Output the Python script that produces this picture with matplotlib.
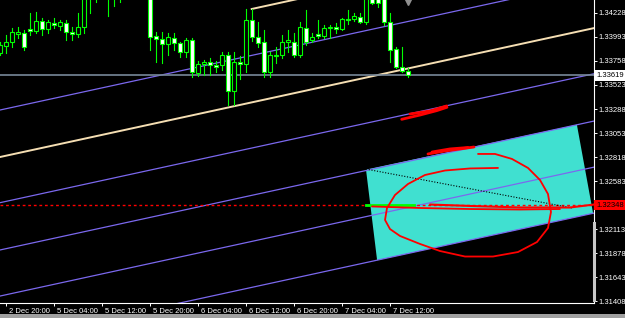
import matplotlib
matplotlib.use("Agg")
import matplotlib.pyplot as plt
import matplotlib.transforms as mtransforms
from matplotlib.patches import Rectangle, Polygon

# H1 candles, bar 0 = 2 Dec 20:00 (weekend gap skipped)
bars = list(range(-1, 68))
opens = [1.33836, 1.33905, 1.33944, 1.34022, 1.34032, 1.34071, 1.34052, 1.34150, 1.34071, 1.34130,
         1.34101, 1.34130, 1.34042, 1.34022, 1.34091, 1.34502, 1.34420, 1.34470, 1.34440, 1.34400,
         1.34430, 1.34390, 1.34420, 1.34410, 1.34440, 1.34420, 1.34003, 1.33973, 1.33924, 1.33983,
         1.33934, 1.33846, 1.33964, 1.33640, 1.33728, 1.33748, 1.33719, 1.33719, 1.33817, 1.33464,
         1.33748, 1.33728, 1.34159, 1.33993, 1.33944, 1.33650, 1.33807, 1.33817, 1.33944, 1.33944,
         1.33817, 1.34081, 1.33964, 1.34022, 1.34003, 1.34081, 1.34091, 1.34071, 1.34169, 1.34169,
         1.34189, 1.34140, 1.34400, 1.34380, 1.34380, 1.34140, 1.33875, 1.33699, 1.33660]
closes = [1.33915, 1.33944, 1.34042, 1.34042, 1.33895, 1.34052, 1.34150, 1.34071, 1.34140, 1.34111,
          1.34140, 1.34042, 1.34022, 1.34091, 1.34502, 1.34420, 1.34470, 1.34440, 1.34400, 1.34430,
          1.34390, 1.34420, 1.34410, 1.34440, 1.34420, 1.33993, 1.33973, 1.33924, 1.33993, 1.33934,
          1.33846, 1.33964, 1.33650, 1.33728, 1.33748, 1.33719, 1.33699, 1.33817, 1.33464, 1.33748,
          1.33728, 1.34159, 1.33993, 1.33934, 1.33650, 1.33817, 1.33817, 1.33944, 1.33964, 1.33817,
          1.34091, 1.33944, 1.33993, 1.34003, 1.34081, 1.34091, 1.34071, 1.34169, 1.34160, 1.34199,
          1.34140, 1.34400, 1.34330, 1.34330, 1.34140, 1.33866, 1.33699, 1.33660, 1.33619]
highs = [1.33944, 1.34013, 1.34081, 1.34091, 1.34062, 1.34228, 1.34238, 1.34179, 1.34159, 1.34179,
         1.34159, 1.34159, 1.34091, 1.34228, 1.34551, 1.34560, 1.34520, 1.34530, 1.34480, 1.34480,
         1.34470, 1.34460, 1.34470, 1.34490, 1.34480, 1.34450, 1.34042, 1.34042, 1.34032, 1.34032,
         1.33944, 1.33983, 1.33983, 1.33758, 1.33768, 1.33787, 1.33758, 1.33846, 1.33846, 1.33846,
         1.33807, 1.34267, 1.34267, 1.34140, 1.34062, 1.33846, 1.33895, 1.34013, 1.34062, 1.34032,
         1.34140, 1.34257, 1.34032, 1.34159, 1.34111, 1.34111, 1.34130, 1.34179, 1.34257, 1.34228,
         1.34228, 1.34430, 1.34440, 1.34420, 1.34420, 1.34228, 1.33895, 1.33895, 1.33689]
lows = [1.33817, 1.33836, 1.33895, 1.33983, 1.33866, 1.34013, 1.34032, 1.34013, 1.34032, 1.34081,
        1.34062, 1.33964, 1.33964, 1.33993, 1.34032, 1.34228, 1.34336, 1.34400, 1.34199, 1.34297,
        1.34336, 1.34370, 1.34380, 1.34375, 1.34380, 1.33866, 1.33748, 1.33738, 1.33817, 1.33866,
        1.33797, 1.33797, 1.33601, 1.33611, 1.33621, 1.33621, 1.33650, 1.33670, 1.33327, 1.33327,
        1.33581, 1.33650, 1.33954, 1.33895, 1.33601, 1.33601, 1.33738, 1.33787, 1.33846, 1.33797,
        1.33797, 1.33915, 1.33944, 1.33983, 1.33983, 1.33983, 1.34032, 1.34062, 1.34120, 1.34150,
        1.34130, 1.34120, 1.34316, 1.34287, 1.34111, 1.33748, 1.33689, 1.33650, 1.33601]

x_ticks = [0, 8, 16, 24, 32, 40, 48, 56, 64]
x_labels = ["2 Dec 20:00", "5 Dec 04:00", "5 Dec 12:00", "5 Dec 20:00", "6 Dec 04:00",
            "6 Dec 12:00", "6 Dec 20:00", "7 Dec 04:00", "7 Dec 12:00"]
y_ticks = [1.31408 + 0.00235 * k for k in range(13)]

bid = 1.33619
level = 1.32348

# channel lines: price at left edge / right edge of window
edge_bars = [-0.95, 98.05]
blue_lines = [(1.33278, 1.34540), (1.32371, 1.33633), (1.31908, 1.33170),
              (1.31457, 1.32719), (1.31007, 1.32269)]
beige_line = (1.32818, 1.34080)
beige_ray = ([41, 98.05], [1.34267, 1.34994])

# turquoise box and other objects
box_bars = [60.05, 95.2, 97.9, 61.9]
box_prices = [1.32695, 1.33134, 1.32267, 1.31808]
dot_bars = [60.05, 94.4]
dot_prices = [1.32700, 1.32319]
green_bars = [60.05, 68.0]

# freehand red scribbles (bar, price)
red_strokes = [
    ([66.0, 69.05, 71.83, 73.55], [1.33187, 1.33229, 1.33272, 1.33305]),
    ([67.38, 70.72, 73.5], [1.33239, 1.33269, 1.33318]),
    ([70.38, 73.22, 75.72, 78.05], [1.32848, 1.32877, 1.32897, 1.32916]),
    ([71.05, 74.05, 77.05], [1.32867, 1.32897, 1.32911]),
    ([82.05, 77.38, 73.22, 69.88, 67.05, 64.88, 63.55, 63.22, 64.05, 65.72, 69.05, 72.38,
      76.55, 81.22, 85.38, 88.55, 90.38, 90.88, 90.38, 89.05, 87.05, 84.38, 81.55, 78.72],
     [1.32711, 1.32706, 1.32686, 1.32642, 1.32554, 1.32446, 1.32319, 1.32202, 1.32113, 1.32045,
      1.31967, 1.31898, 1.31844, 1.31844, 1.31888, 1.31986, 1.32123, 1.32280, 1.32456, 1.32593,
      1.32711, 1.32799, 1.32848, 1.32848]),
    ([70.72, 77.38, 85.72, 94.05, 98.05], [1.32353, 1.32339, 1.32324, 1.32324, 1.32353]),
    ([61.05, 69.05, 77.38, 85.72, 92.38], [1.32334, 1.32319, 1.32309, 1.32304, 1.32309]),
]
stroke_widths = [2.0, 2.0, 2.0, 2.0, 1.3, 1.5, 1.3]

GREEN = "#00ff00"
plt.rcParams['font.family'] = ['Liberation Sans', 'DejaVu Sans']

fig = plt.figure(figsize=(6.25, 3.18), dpi=100, facecolor="black")
ax = fig.add_axes([0, 1 - 303 / 318, 594 / 625, 303 / 318])
ax.set_facecolor("black")
ax.set_xlim(edge_bars[0], edge_bars[1])
ax.set_ylim(1.31389, 1.34355)

# box behind the lines
ax.add_patch(Polygon(list(zip(box_bars, box_prices)), closed=True, facecolor="#40e0d0",
                     edgecolor="none", zorder=1))

for p0, p1 in blue_lines:
    ax.plot(edge_bars, [p0, p1], color="#7b68ee", lw=0.9, zorder=2)
ax.plot(edge_bars, beige_line, color="#f5deb3", lw=1.4, zorder=2)
ax.plot(beige_ray[0], beige_ray[1], color="#f5deb3", lw=1.4, zorder=2)

ax.axhline(bid, color="#778899", lw=1.2, zorder=2)
ax.axhline(level, color="red", lw=1.0, ls=(0, (2, 2)), zorder=3)
ax.plot(dot_bars, dot_prices, color="black", lw=0.8, ls=(0, (1, 1.5)), zorder=3)
ax.plot(green_bars, [level, level], color=GREEN, lw=2, zorder=4)

# candles
w = 0.7
for b, o, h, l, c in zip(bars, opens, highs, lows, closes):
    ax.plot([b, b], [l, h], color=GREEN, lw=0.8, zorder=5)
    fill = "white" if c < o else "black"
    ax.add_patch(Rectangle((b - w / 2, min(o, c)), w, max(abs(c - o), 0.00002),
                           facecolor=fill, edgecolor=GREEN, lw=0.8, zorder=6))

for (xs, ys), lw in zip(red_strokes, stroke_widths):
    ax.plot(xs, ys, color="red", lw=lw, zorder=7, solid_capstyle="round")

# chart shift marker
ax.plot(67, 1.34336, marker="v", color="#909090", ms=4.5, zorder=8, clip_on=False)

for s in ["left", "top"]:
    ax.spines[s].set_visible(False)
for s in ["right", "bottom"]:
    ax.spines[s].set_color("white")
    ax.spines[s].set_linewidth(0.8)

ax.yaxis.tick_right()
ax.set_yticks(y_ticks)
# the 1.32348 tag covers its own tick label
ax.set_yticklabels(["" if abs(v - level) < 1e-6 else f"{v:.5f}" for v in y_ticks])
ax.set_xticks(x_ticks)
ax.set_xticklabels(x_labels)
ax.tick_params(colors="white", labelsize=5.5, length=2.5, width=0.7, pad=1)
shift = mtransforms.ScaledTranslation(3 / 100, 0, fig.dpi_scale_trans)
for lbl in ax.get_xticklabels():
    lbl.set_ha("left")
    lbl.set_transform(lbl.get_transform() + shift)

# price tags on the scale
tr = ax.get_yaxis_transform()
ax.text(1.004, bid, f"{bid:.5f}", transform=tr, ha="left", va="center", fontsize=5.5,
        color="black", bbox=dict(boxstyle="square,pad=0.25", fc="white", ec="none"), zorder=10)
ax.text(1.004, level, f"{level:.5f}", transform=tr, ha="left", va="center", fontsize=5.5,
        color="black", bbox=dict(boxstyle="square,pad=0.25", fc="red", ec="none"), zorder=10)
ax.plot([1.0, 1.0], [1.31418, 1.32172], transform=tr, color="#c8c8c8", lw=2.2,
        clip_on=False, zorder=9)

fig.patches.append(Rectangle((0, 0), 1, 4 / 318, transform=fig.transFigure,
                             facecolor="#a0a0a0", edgecolor="none"))

fig.savefig("out.png", dpi=100, facecolor="black")
